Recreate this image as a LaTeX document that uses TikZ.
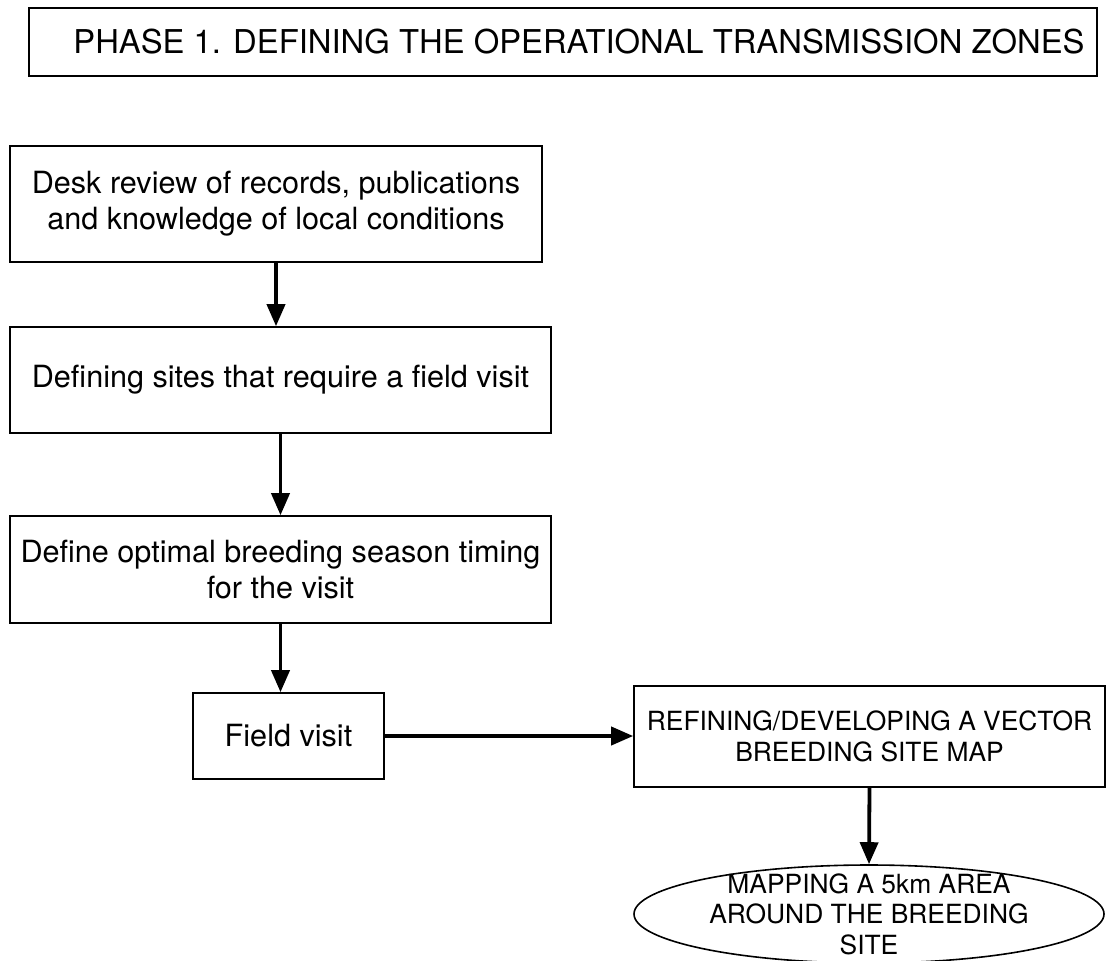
\documentclass[tikz,border=0pt]{standalone}
\usepackage{fontspec}
\setmainfont{TeX Gyre Heros}
\usetikzlibrary{arrows.meta,shapes.geometric,positioning,calc}

\begin{document}
\begin{tikzpicture}[x = .5pt, y = -.5pt,
    stepbox/.style = {draw, line width = .8pt, align = center, inner sep = 0pt, font = \fontsize{15.3}{18}\selectfont},
    capsbox/.style = {stepbox, font = \fontsize{13.2}{15.3}\selectfont},
    flow/.style = {-{Triangle[length = 11pt, width = 9pt]}, line width = 1.9pt}]
    \useasboundingbox (0,0) rectangle (1114,960);
    % heading
    \draw[line width = 1.4pt] (29,8) rectangle (1097,76);
    \node[font = \fontsize{16.4}{18}\selectfont] (title) at (579,42) {PHASE 1. DEFINING THE OPERATIONAL TRANSMISSION ZONES};
    % left column
    \node[stepbox, minimum width = 266pt, minimum height = 58pt] (desk) at (276,204) {Desk review of records, publications\\and knowledge of local conditions};
    \node[stepbox, minimum width = 270.5pt, minimum height = 53pt] (sites) at (280.5,380) {Defining sites that require a field visit};
    \node[stepbox, minimum width = 270.5pt, minimum height = 53.5pt] (timing) at (280.5,569.5) {Define optimal breeding season timing\\for the visit};
    \node[stepbox, minimum width = 95.5pt, minimum height = 43pt] (visit) at (288.5,736) {Field visit};
    % right column
    \node[capsbox, minimum width = 235.5pt, minimum height = 50.5pt] (sitemap) at (869.5,736.5) {REFINING/DEVELOPING A VECTOR\\BREEDING SITE MAP};
    \node[capsbox, draw = none, minimum width = 235pt, minimum height = 49pt] (area) at (869,914) {MAPPING A 5km AREA\\AROUND THE BREEDING\\SITE};
    \draw[line width = .8pt] (area.center) ellipse [x radius = 117.5pt, y radius = 24.5pt];
    % arrows
    \draw[flow] (desk.south) -- (desk.south |- sites.north);
    \draw[flow] (sites.south) -- (timing.north);
    \draw[flow] (timing.south) -- (timing.south |- visit.north);
    \draw[flow] (visit.east) -- (visit.east -| sitemap.west);
    \draw[flow] (sitemap.south) -- (area.north);
\end{tikzpicture}
\end{document}
